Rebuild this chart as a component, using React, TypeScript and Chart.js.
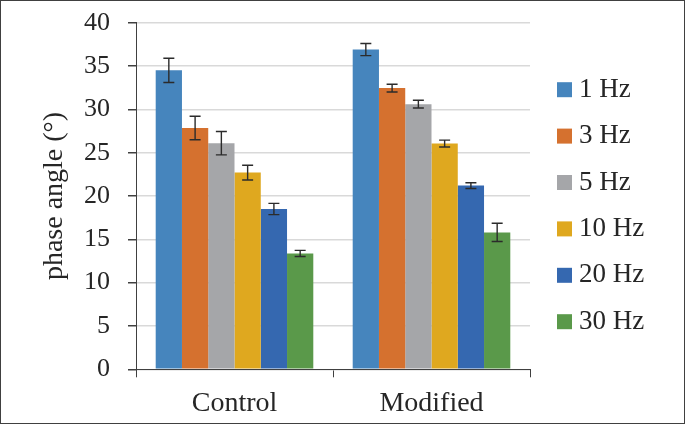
import React, { useEffect, useRef } from "react";
import { Chart, registerables } from "chart.js";

Chart.register(...registerables);

const categories = ["Control", "Modified"];
const seriesLabels = ["1 Hz", "3 Hz", "5 Hz", "10 Hz", "20 Hz", "30 Hz"];
const seriesColors = ["#4685BD", "#D5712F", "#A5A6A9", "#DFA81F", "#3568B0", "#5A994A"];

const hz1 = [34.5, 36.9];
const hz3 = [27.85, 32.45];
const hz5 = [26.1, 30.6];
const hz10 = [22.7, 26.05];
const hz20 = [18.5, 21.2];
const hz30 = [13.37, 15.8];

const hz1Err = [1.4, 0.7];
const hz3Err = [1.35, 0.45];
const hz5Err = [1.35, 0.45];
const hz10Err = [0.85, 0.4];
const hz20Err = [0.65, 0.33];
const hz30Err = [0.35, 1.05];

const yTicks = [0, 5, 10, 15, 20, 25, 30, 35, 40];

const seriesValues = [hz1, hz3, hz5, hz10, hz20, hz30];
const seriesErrors = [hz1Err, hz3Err, hz5Err, hz10Err, hz20Err, hz30Err];

const FONT = "'Liberation Serif', 'Times New Roman', serif";
const TEXT = "#262626";
const AXIS = "#404040";

const errorBarPlugin = {
  id: "errorBars",
  afterDatasetsDraw(chart: any) {
    const ctx = chart.ctx;
    const yScale = chart.scales.y;
    ctx.save();
    ctx.strokeStyle = "#2b2b2b";
    ctx.lineWidth = 1.4;
    chart.data.datasets.forEach((ds: any, di: number) => {
      const meta = chart.getDatasetMeta(di);
      meta.data.forEach((bar: any, i: number) => {
        const v = ds.data[i];
        const e = ds.errors[i];
        const x = bar.x;
        const yTop = yScale.getPixelForValue(v + e);
        const yBot = yScale.getPixelForValue(v - e);
        const cap = 5.5;
        ctx.beginPath();
        ctx.moveTo(x, yTop);
        ctx.lineTo(x, yBot);
        ctx.moveTo(x - cap, yTop);
        ctx.lineTo(x + cap, yTop);
        ctx.moveTo(x - cap, yBot);
        ctx.lineTo(x + cap, yBot);
        ctx.stroke();
      });
    });
    ctx.restore();
  },
};

const legendPlugin = {
  id: "sideLegend",
  afterDraw(chart: any) {
    const ctx = chart.ctx;
    const area = chart.chartArea;
    const boxX = area.right + 27;
    const firstY = area.top + 67;
    const step = 46.4;
    const box = 15;
    ctx.save();
    ctx.font = `27px ${FONT}`;
    ctx.textBaseline = "middle";
    ctx.textAlign = "left";
    chart.data.datasets.forEach((ds: any, i: number) => {
      const cy = firstY + i * step;
      ctx.fillStyle = ds.backgroundColor;
      ctx.fillRect(boxX, cy - box / 2, box, box);
      ctx.fillStyle = TEXT;
      ctx.fillText(ds.label, boxX + box + 7, cy);
    });
    ctx.restore();
  },
};

export default function App() {
  const ref = useRef<HTMLCanvasElement | null>(null);

  useEffect(() => {
    if (!ref.current) return;
    const chart = new Chart(ref.current, {
      type: "bar",
      data: {
        labels: categories,
        datasets: seriesLabels.map((label, i) => ({
          label,
          data: seriesValues[i],
          errors: seriesErrors[i],
          backgroundColor: seriesColors[i],
          borderWidth: 0,
          barPercentage: 1,
          categoryPercentage: 0.8,
        })) as any,
      },
      options: {
        responsive: false,
        animation: false,
        layout: { padding: { top: 21.7, right: 154, bottom: 3.7, left: 20 } },
        plugins: {
          legend: { display: false },
          tooltip: { enabled: false },
        },
        scales: {
          x: {
            afterFit: (s: any) => {
              s.height = 50;
            },
            grid: {
              display: true,
              drawOnChartArea: false,
              offset: true,
              color: AXIS,
              tickLength: 8,
              lineWidth: 1,
            },
            border: { color: AXIS, width: 1 },
            ticks: {
              font: { family: FONT, size: 28 },
              color: TEXT,
              padding: 10,
            },
          },
          y: {
            min: 0,
            max: 40,
            afterFit: (s: any) => {
              s.width = 115;
              s.paddingTop = 10;
              s.paddingBottom = 0;
            },
            afterBuildTicks: (s: any) => {
              s.ticks = yTicks.map((v) => ({ value: v }));
            },
            grid: {
              color: "#D9D9D9",
              tickColor: AXIS,
              tickLength: 8,
              lineWidth: 1.5,
            },
            border: { color: AXIS, width: 1 },
            ticks: {
              font: { family: FONT, size: 26 },
              color: TEXT,
              padding: 18,
            },
            title: {
              display: true,
              text: "phase angle (°)",
              font: { family: FONT, size: 28 },
              color: TEXT,
              padding: { top: 17, bottom: 0 },
            },
          },
        },
      },
      plugins: [errorBarPlugin, legendPlugin],
    });
    return () => chart.destroy();
  }, []);

  return (
    <div
      style={{
        position: "absolute",
        left: 0,
        top: 0,
        width: 685,
        height: 424,
        border: "1px solid #404040",
        boxSizing: "border-box",
        background: "#fff",
      }}
    >
      <canvas ref={ref} width={683} height={422} style={{ display: "block" }} />
    </div>
  );
}
